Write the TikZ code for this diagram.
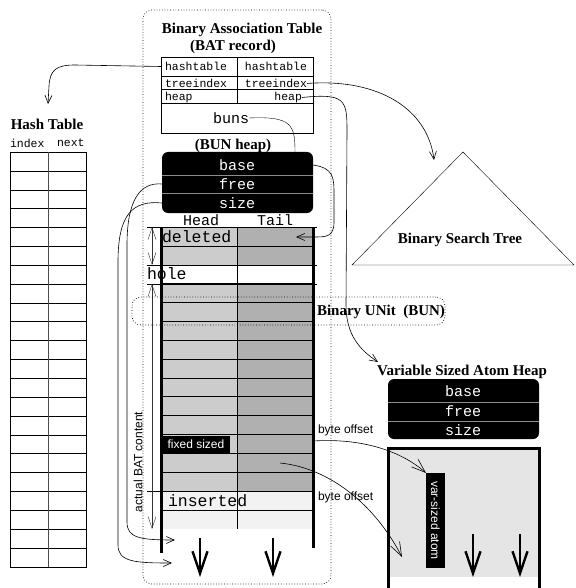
\documentclass[tikz,border=0pt]{standalone}
\usepackage{fontspec}
\setmainfont{Liberation Serif}
\setsansfont{Liberation Sans}
\setmonofont{Liberation Mono}
\usepackage{tikz}
\usetikzlibrary{
  arrows.meta,
  positioning,
  calc,
}

\begin{document}
\begin{tikzpicture}[
  x=1pt, y=-1pt,
  every node/.style={inner sep=0pt, outer sep=0pt},
  title/.style={font=\fontsize{15}{17}\selectfont\bfseries},
  cell/.style={font=\fontsize{11.5}{13}\selectfont\ttfamily},
  field/.style={font=\fontsize{15}{17}\selectfont\ttfamily},
  tag/.style={font=\fontsize{16.5}{18}\selectfont\ttfamily},
  note/.style={font=\fontsize{12}{14}\selectfont\sffamily},
  heapbox/.style={fill=black, rounded corners=6pt, minimum width=151, minimum height=61},
  frame/.style={draw, dotted, line width=0.7pt, rounded corners=9pt},
  ptr/.style={-{Straight Barb[length=8pt, width=7pt]}, line width=0.6pt},
  ptrbig/.style={-{Straight Barb[length=14pt, width=10pt]}, line width=0.6pt},
  growarrow/.style={-{Straight Barb[length=22pt, width=15pt]}, line width=2.4pt},
  dim/.style={{Straight Barb[length=12pt, width=8pt]}-{Straight Barb[length=12pt, width=8pt]}, black!80},
]
  \useasboundingbox (0,0) rectangle (575,588);

  % BAT frame
  \node[frame, minimum width=188, minimum height=574, anchor=north west] (bat) at (143,10) {};
  \node[title] (battitle) at (242,30) {Binary Association Table};
  \node[title] (batsub) at (233,47) {(BAT record)};

  % BAT record
  \node[draw, minimum width=152, minimum height=76, anchor=north west] (batrec) at (161,57) {};
  \foreach \y in {76,89,103} \draw (161,\y) -- (313,\y);
  \draw (237,57) -- (237,103);
  \node[cell, anchor=west] (hashL) at (165,66.5) {hashtable};
  \node[cell, anchor=east] (hashR) at (307,66.5) {hashtable};
  \node[cell, anchor=west] (treeL) at (165,83.5) {treeindex};
  \node[cell, anchor=east] (treeR) at (307,83.5) {treeindex};
  \node[cell, anchor=west] (heapL) at (165,97.5) {heap};
  \node[cell, anchor=east] (heapR) at (302,97.5) {heap};
  \node[field] (buns) at (231,118) {buns};

  % BUN heap descriptor
  \node[title] (bunsub) at (233,146) {(BUN heap)};
  \node[heapbox, anchor=north west] (bunheap) at (162,152) {};
  \foreach \y in {175,193} \draw[black!45, line width=1pt] (162,\y) -- (313,\y);
  \node[field, text=white] (base) at (237,165) {base};
  \node[field, text=white] (free) at (237,184) {free};
  \node[field, text=white] (size) at (237,203) {size};

  % BUN table
  \node[field] (head) at (201,220) {Head};
  \node[field] (tail) at (275,220) {Tail};
  \fill[black!20] (161,227) rectangle (237,265);
  \fill[black!31] (237,227) rectangle (313,265);
  \fill[black!20] (161,284) rectangle (237,491);
  \fill[black!31] (237,284) rectangle (313,491);
  \fill[black!5] (161,491) rectangle (313,529);
  \foreach \i in {1,3,4,...,13,15} \draw (161,{227+\i*18.85}) -- (313,{227+\i*18.85});
  \foreach \y in {227,265,284} \draw (147,\y) -- (317,\y);
  \draw (147,491) -- (313,491);
  \draw (237,227) -- (237,529);
  \draw[line width=3pt] (161,227) -- (161,553);
  \draw[line width=3pt] (313,227) -- (313,548);
  \node[tag, anchor=west] (deleted) at (162,237) {deleted};
  \node[tag, anchor=west] (hole) at (147,274) {hole};
  \node[tag, anchor=west] (inserted) at (168,501) {inserted};
  \node[note, fill=black, text=white, minimum width=68, minimum height=18] (fixed) at (196,444.5) {fixed sized};
  \foreach \x in {200,273} \draw[growarrow] (\x,538) -- (\x,577);

  % extents
  \coordinate (delTop) at (152,227);
  \coordinate (delBot) at (152,265);
  \coordinate (cntTop) at (152,284);
  \coordinate (cntBot) at (152,529);
  \draw[dim] (delTop) -- (delBot);
  \draw[dim] (cntTop) -- (cntBot);
  \node[note, rotate=90] (content) at (138,462) {actual BAT content};

  % Binary UNit
  \node[frame, minimum width=313, minimum height=28, anchor=north west] (bun) at (132,297) {};
  \node[title, anchor=west] (buntitle) at (317,312) {Binary UNit\ \ (BUN)};

  % Hash table
  \node[title] (httitle) at (47,124) {Hash Table};
  \node[cell, anchor=west] (htidx) at (10,143) {index};
  \node[cell, anchor=west] (htnext) at (57,143) {next};
  \draw (10,152) rectangle (86,567);
  \foreach \i in {1,...,21} \draw (10,{152+\i*18.85}) -- (86,{152+\i*18.85});
  \draw[black!70] (48,152) -- (48,567);

  % Binary search tree
  \coordinate (bstTop) at (463,152);
  \coordinate (bstLeft) at (352,265);
  \coordinate (bstRight) at (574,265);
  \draw (bstTop) -- (bstLeft) -- (bstRight) -- cycle;
  \node[title] (bst) at (460,240) {Binary Search Tree};

  % Variable sized atom heap
  \node[title] (vtitle) at (462,372) {Variable Sized Atom Heap};
  \node[heapbox, minimum height=60, anchor=north west] (varheap) at (388,379) {};
  \foreach \y in {402,421} \draw[black!45, line width=1pt] (388,\y) -- (539,\y);
  \node[field, text=white] (vbase) at (463,391) {base};
  \node[field, text=white] (vfree) at (463,411) {free};
  \node[field, text=white] (vsize) at (463,430) {size};
  \fill[black!10] (388,448) rectangle (539,577);
  \draw[line width=3pt] (388,588) -- (388,448) -- (539,448) -- (539,588);
  \node[note, fill=black, text=white, minimum width=19, minimum height=95] (vatom) at (435.5,520.5) {\rotatebox{-90}{var-sized atom}};
  \foreach \x in {473,520} \draw[growarrow] (\x,534) -- (\x,577);
  \node[note, anchor=west] (off1) at (318,430) {byte offset};
  \node[note, anchor=west] (off2) at (318,497) {byte offset};

  % pointer end points
  \coordinate (htin) at (48,104);
  \coordinate (bstin) at (434,160);
  \coordinate (vhin) at (378,362);
  \coordinate (bunsin) at (295,152);
  \coordinate (delptr) at (296,237);
  \coordinate (freeptr) at (175,540);
  \coordinate (sizeptr) at (172,563);
  \coordinate (fixout) at (313,441);
  \coordinate (tailpos) at (280,463);
  \coordinate (vatin) at (402,557);

  % BAT record pointers
  \draw[ptr] (batrec.west |- hashL.west) -- (75,65) .. controls (56,65) and (50,70) .. (49,86) -- (htin);
  \draw[ptr] (treeR.east) .. controls (380,78) and (428,110) .. (bstin);
  \draw[ptr] (heapR.east) .. controls (345,93) and (347,100) .. (347,130) -- (346,305) .. controls (346,335) and (360,350) .. (vhin);
  \draw (buns.east) .. controls (292,116) and (295,125) .. (bunsin);

  % BUN heap pointers
  \draw[ptr] (bunheap.east |- base) .. controls (334,168) and (334,178) .. (334,195) -- (334,222) .. controls (334,237) and (326,237) .. (314,237) -- (delptr);
  \draw[ptr] (bunheap.west |- free) .. controls (140,182) and (127,200) .. (127,245) -- (127,522) .. controls (127,538) and (140,540) .. (freeptr);
  \draw[ptr] (bunheap.west |- size) .. controls (132,200) and (118,215) .. (118,262) -- (118,545) .. controls (118,562) and (135,563) .. (sizeptr);

  % byte offsets
  \draw[ptrbig] (fixout) .. controls (360,438) and (400,450) .. (vatom.north west);
  \draw[ptrbig] (tailpos) .. controls (330,468) and (375,505) .. (vatin);

\end{tikzpicture}
\end{document}
